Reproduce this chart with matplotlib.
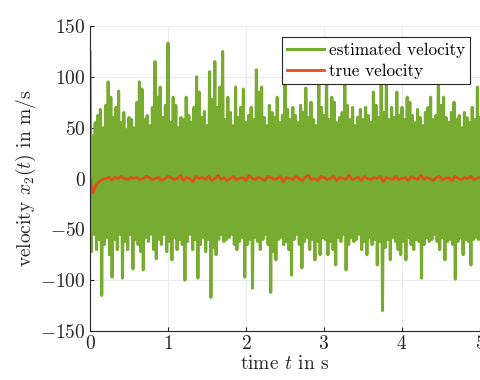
import numpy as np
import matplotlib
matplotlib.use("Agg")
import matplotlib.pyplot as plt

# estimated velocity: upper / lower swings, 30 of each per second
est_upper = [
    125, 42, 55, 62, 68, 50, 72, 95, 80, 60, 70, 86, 55, 65, 48, 60, 58, 50, 75, 95,
    88, 58, 62, 52, 70, 115, 80, 90, 60, 72,
    133, 55, 80, 72, 50, 60, 58, 80, 62, 55, 70, 100, 85, 60, 66, 52, 105, 78, 115, 70,
    90, 125, 58, 80, 65, 52, 90, 60, 70, 88,
    55, 62, 70, 58, 107, 85, 90, 60, 52, 72, 65, 60, 80, 55, 62, 100, 68, 58, 70, 62,
    55, 72, 65, 89, 60, 75, 58, 52, 95, 70,
    62, 100, 58, 80, 75, 55, 60, 65, 105, 72, 58, 70, 52, 60, 68, 58, 70, 62, 55, 85,
    72, 60, 95, 65, 100, 58, 70, 60, 85, 62,
    70, 58, 80, 75, 62, 55, 68, 60, 52, 65, 70, 80, 58, 62, 105, 72, 80, 60, 55, 65,
    75, 58, 62, 50, 65, 60, 55, 70, 58, 90, 60,
]
est_lower = [
    -72, -55, -70, -60, -115, -65, -58, -75, -97, -60, -70, -55, -98, -62, -70, -55,
    -89, -60, -65, -72, -90, -58, -62, -55, -70, -79, -60, -65, -55, -72,
    -62, -80, -58, -70, -60, -65, -100, -62, -55, -70, -60, -98, -65, -58, -72, -60,
    -117, -68, -75, -60, -55, -62, -60, -58, -55, -65, -70, -62, -58, -97,
    -65, -60, -108, -58, -62, -70, -60, -55, -65, -112, -72, -80, -60, -58, -65, -62,
    -70, -95, -60, -55, -65, -88, -62, -58, -70, -60, -80, -62, -75, -58,
    -60, -75, -62, -70, -85, -58, -62, -55, -90, -65, -58, -62, -60, -55, -70, -62,
    -75, -58, -65, -60, -85, -62, -130, -68, -60, -80, -58, -62, -70, -75,
    -62, -80, -58, -65, -70, -60, -62, -98, -65, -58, -62, -60, -55, -62, -70, -58,
    -80, -62, -60, -65, -99, -62, -58, -75, -60, -62, -85, -60, -58, -60, -62,
]

# true velocity, 25 samples per second
true_vel = [
    0, -14, -6, -3, -1, 0, 1, -1, 1, 0, 2, 0, -1, 1, 0, 1, -1, 0, 2, 1,
    -1, 0, 1, -2, 0, 2, 1, -1, 0, 3, -2, 1, 0, -3, 2, 0, 1, -1, 2, -2,
    0, 3, -1, 1, -2, 0, 2, -1, 0, 1, -2, 3, 0, -1, 1, 0, -2, 2, 1, -1,
    0, 2, -3, 1, 0, -1, 2, 0, -2, 1, 3, -1, 0, -2, 2, 1, -1, 0, 2, -2,
    1, 0, -1, 3, -1, 0, 1, -2, 2, 0, -1, 1, 0, 2, -3, 1, 0, -1, 2, -1,
    0, 1, -2, 2, 0, -1, 3, -1, 1, 0, -2, 1, 2, -1, 0, 1, -2, 2, 0, -1,
    1, 0, 2, -1, 0, 1,
]

plt.rcParams["font.family"] = "serif"
plt.rcParams["font.serif"] = ["cmr10"]
plt.rcParams["mathtext.fontset"] = "cm"
plt.rcParams["axes.formatter.use_mathtext"] = True

GREEN = "#77AC30"
ORANGE = "#D95319"
AXCOL = "#262626"

n = len(est_upper)
t_up = np.arange(n) / 30.0
t_lo = t_up + 1 / 60.0
t_est = np.empty(2 * n)
v_est = np.empty(2 * n)
t_est[0::2] = t_up
t_est[1::2] = t_lo
v_est[0::2] = est_upper
v_est[1::2] = est_lower[:n]
t_true = np.linspace(0, 5, len(true_vel))

fig = plt.figure(figsize=(4.81, 3.80), dpi=100)
ax = fig.add_axes([90 / 481, 49 / 380, 390 / 481, 305 / 380])

ax.plot(t_est, v_est, color=GREEN, linewidth=2.2, label="estimated velocity")
ax.plot(t_true, true_vel, color=ORANGE, linewidth=2.0, label="true velocity")

ax.set_xlim(0, 5)
ax.set_ylim(-150, 150)
ax.set_xticks([0, 1, 2, 3, 4, 5])
ax.set_yticks([-150, -100, -50, 0, 50, 100, 150])
ax.grid(True, color="#ebebeb", linewidth=0.8)
ax.set_axisbelow(True)

for side in ["top", "right"]:
    ax.spines[side].set_visible(False)
for side in ["left", "bottom"]:
    ax.spines[side].set_color(AXCOL)
    ax.spines[side].set_linewidth(0.8)
ax.tick_params(direction="in", length=3, width=0.8, colors=AXCOL, labelsize=14,
               labelcolor="#262626", pad=3)

ax.set_xlabel("time $t$ in s", fontsize=14, color=AXCOL, labelpad=1)
ax.set_ylabel("velocity $x_2(t)$ in m/s", fontsize=14, color=AXCOL, labelpad=2)

leg = ax.legend(loc="upper right", fontsize=12.3, frameon=True, fancybox=False,
                framealpha=1, edgecolor=AXCOL, handlelength=2.2,
                borderpad=0.3, labelspacing=0.3, handletextpad=0.25,
                borderaxespad=0, bbox_to_anchor=(0.974, 0.963))
leg.get_frame().set_linewidth(0.8)

fig.savefig("out.png", dpi=100, facecolor="white")
